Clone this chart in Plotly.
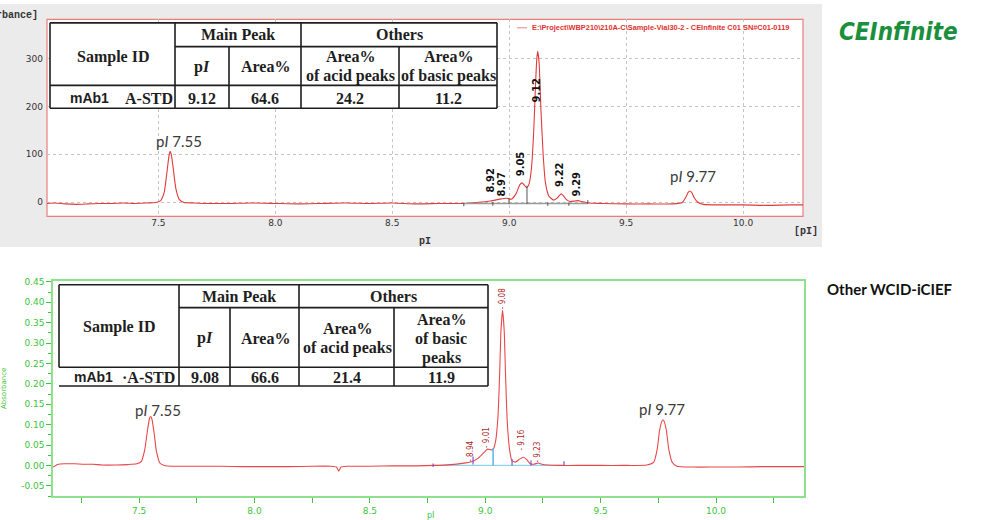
import plotly.graph_objects as go

# ---------------- data ----------------
# CEInfinite electropherogram (top panel), pI vs absorbance (mAU)
top_pi = [7.024, 7.06, 7.10, 7.15, 7.20, 7.25, 7.30, 7.35, 7.40, 7.45, 7.49, 7.51, 7.525, 7.535,
          7.545, 7.55, 7.555, 7.565, 7.575, 7.59, 7.61, 7.65, 7.70, 7.80, 7.90, 8.00, 8.10, 8.20,
          8.30, 8.40, 8.50, 8.60, 8.70, 8.80, 8.86, 8.92, 8.96, 8.99, 9.01, 9.03, 9.045, 9.055,
          9.065, 9.075, 9.085, 9.095, 9.105, 9.112, 9.118, 9.122, 9.128, 9.135, 9.145, 9.155,
          9.17, 9.19, 9.205, 9.215, 9.222, 9.23, 9.245, 9.26, 9.28, 9.295, 9.31, 9.34, 9.40,
          9.50, 9.60, 9.70, 9.74, 9.755, 9.765, 9.772, 9.78, 9.79, 9.805, 9.83, 9.90, 10.00,
          10.10, 10.20, 10.256]
top_abs = [-3, -2, -4, -5, -4, -3, -3, -2, -3, -2, -1, 3, 20, 55,
           95, 106, 100, 65, 28, 5, -1, -2, -3, -3, -2, -3, -4, -3,
           -2, -3, -2, -4, -3, -3, -1, 2, 6, 8, 6, 18, 36, 40,
           35, 30, 38, 70, 150, 240, 300, 315, 290, 200, 100, 40,
           12, 4, 8, 14, 17, 14, 5, 1, 2, 3, 1, -2, -3,
           -4, -4, -4, -1, 10, 20, 23, 20, 10, 0, -5, -6, -6,
           -7, -6, -6]
top_peak_labels = ["8.92", "8.97", "9.05", "9.12", "9.22", "9.29"]
top_bounds_pi = [8.806, 8.93, 8.999, 9.076, 9.165, 9.255, 9.336]
top_bounds_low = [-9, -8, -4, -4, -8, -8, -4]
top_bounds_high = [-2, 0, 8, 34, -1, -1, 4]
top_xticks = [7.5, 8.0, 8.5, 9.0, 9.5, 10.0]
top_yticks = [0, 100, 200, 300]

# Other WCID-iCIEF electropherogram (bottom panel), pI vs absorbance (AU)
bot_pi = [7.127, 7.15, 7.18, 7.22, 7.26, 7.30, 7.34, 7.40, 7.45, 7.49, 7.51, 7.525, 7.535, 7.545,
          7.55, 7.555, 7.565, 7.575, 7.59, 7.61, 7.65, 7.75, 7.85, 7.95, 8.05, 8.15, 8.25, 8.33,
          8.355, 8.365, 8.375, 8.40, 8.50, 8.60, 8.70, 8.78, 8.85, 8.90, 8.94, 8.97, 8.995, 9.01,
          9.025, 9.035, 9.045, 9.055, 9.062, 9.068, 9.075, 9.082, 9.088, 9.095, 9.105, 9.115,
          9.13, 9.15, 9.165, 9.18, 9.195, 9.21, 9.23, 9.245, 9.27, 9.32, 9.40, 9.50, 9.60, 9.70,
          9.73, 9.745, 9.755, 9.765, 9.77, 9.775, 9.785, 9.795, 9.81, 9.83, 9.90, 10.00, 10.10,
          10.20, 10.30, 10.381]
bot_abs = [-0.004, 0.003, 0.004, 0.004, 0.003, 0.003, 0.001, 0.001, 0.002, 0.004, 0.010, 0.040, 0.080, 0.115,
           0.120, 0.115, 0.080, 0.035, 0.006, 0.000, -0.002, -0.002, -0.002, -0.003, -0.003, -0.003, -0.002, -0.002,
           -0.004, -0.014, -0.004, -0.002, -0.002, -0.001, -0.001, 0.000, 0.002, 0.005, 0.009, 0.018, 0.032, 0.040,
           0.038, 0.040, 0.060, 0.120, 0.220, 0.330, 0.380, 0.330, 0.220, 0.110, 0.040, 0.012,
           0.008, 0.016, 0.020, 0.014, 0.004, 0.003, 0.006, 0.003, 0.001, 0.000, 0.000, 0.000, 0.000, 0.001,
           0.008, 0.040, 0.085, 0.108, 0.112, 0.108, 0.085, 0.040, 0.008, -0.002, -0.004, -0.004, -0.004,
           -0.003, -0.003, -0.003]
bot_peak_labels = ["8.94", "9.01", "9.08", "9.16", "9.23"]
bot_bounds_pi = [8.774, 8.947, 9.116, 9.198, 9.341]
bot_bounds_low = [-0.004, 0.002, 0.0, 0.0, 0.0]
bot_bounds_high = [0.005, 0.022, 0.016, 0.012, 0.010]
bot_drop_pi = [9.034]
bot_drop_high = [0.042]
bot_xticks = [7.5, 8.0, 8.5, 9.0, 9.5, 10.0]
bot_xminor = [7.25, 7.75, 8.25, 8.75, 9.25, 9.75, 10.25]
bot_yticks = [-0.05, 0.0, 0.05, 0.10, 0.15, 0.20, 0.25, 0.30, 0.35, 0.40, 0.45]
bot_yminor = [-0.075, -0.025, 0.025, 0.075, 0.125, 0.175, 0.225, 0.275, 0.325, 0.375, 0.425]

# table contents
top_table_values = ["mAb1", "A-STD", "9.12", "64.6", "24.2", "11.2"]
bot_table_values = ["mAb1", "\u00b7A-STD", "9.08", "66.6", "21.4", "11.9"]
legend_name = r"E:\Project\WBP210\210A-C\Sample-Vial30-2 - CEInfinite C01 SN#C01-0119"

# ---------------- helpers ----------------
W, H = 1000, 520
def PX(x):
    return x / W
def PY(y):
    return 1 - y / H

RED = "#e23a3a"
GREEN = "#3cc43c"
SERIF = "Liberation Serif, Times New Roman, serif"
SANS = "Liberation Sans, Arial, sans-serif"
NARROW = "Liberation Sans Narrow, DejaVu Sans Condensed, Arial Narrow, sans-serif"

def seg_lists(xs, lows, highs):
    X, Y = [], []
    for x, lo, hi in zip(xs, lows, highs):
        X += [x, x, None]
        Y += [lo, hi, None]
    return X, Y

fig = go.Figure()

# top panel traces
fig.add_trace(go.Scatter(x=top_pi, y=top_abs, mode="lines", name=legend_name,
                         line=dict(color=RED, width=1.1, shape="spline", smoothing=0.5),
                         xaxis="x", yaxis="y", hoverinfo="skip"))
fig.add_trace(go.Scatter(x=[top_bounds_pi[0], top_bounds_pi[-1]], y=[-3, -3], mode="lines",
                         line=dict(color="#9a9a9a", width=1.5), xaxis="x", yaxis="y", hoverinfo="skip"))
tx, ty = seg_lists(top_bounds_pi, top_bounds_low, top_bounds_high)
fig.add_trace(go.Scatter(x=tx, y=ty, mode="lines", line=dict(color="#555555", width=1),
                         xaxis="x", yaxis="y", hoverinfo="skip"))

# bottom panel traces
fig.add_trace(go.Scatter(x=[bot_bounds_pi[0], bot_bounds_pi[-1]], y=[0, 0], mode="lines",
                         line=dict(color="#8fd3ec", width=1.2), xaxis="x2", yaxis="y2", hoverinfo="skip"))
fig.add_trace(go.Scatter(x=bot_pi, y=bot_abs, mode="lines",
                         line=dict(color="#e8474a", width=1.1, shape="spline", smoothing=0.5),
                         xaxis="x2", yaxis="y2", hoverinfo="skip"))
bx, by = seg_lists(bot_bounds_pi, bot_bounds_low, bot_bounds_high)
fig.add_trace(go.Scatter(x=bx, y=by, mode="lines", line=dict(color="#8a4fd0", width=1.2),
                         xaxis="x2", yaxis="y2", hoverinfo="skip"))
dx, dy = seg_lists(bot_drop_pi, [0] * len(bot_drop_pi), bot_drop_high)
fig.add_trace(go.Scatter(x=dx, y=dy, mode="lines", line=dict(color="#5ab4e8", width=1.5),
                         xaxis="x2", yaxis="y2", hoverinfo="skip"))

shapes = []
# gray panel + white plot area for top chart
shapes.append(dict(type="rect", xref="paper", yref="paper", x0=PX(0), x1=PX(822), y0=PY(245), y1=PY(0),
                   fillcolor="#ebebeb", line=dict(width=0), layer="below"))
shapes.append(dict(type="rect", xref="paper", yref="paper", x0=PX(47), x1=PX(803), y0=PY(214), y1=PY(15.5),
                   fillcolor="white", line=dict(color="#ec7d7d", width=1.2), layer="below"))
# legend sample line
shapes.append(dict(type="line", xref="paper", yref="paper", x0=PX(517), x1=PX(527), y0=PY(24), y1=PY(24),
                   line=dict(color="#f08080", width=1), layer="above"))

def table_shapes(box, vfull, vpart, hsplit, hrow, left_to=None):
    L, T, R, B = box
    out = []
    out.append(dict(type="rect", xref="paper", yref="paper", x0=PX(L), x1=PX(R), y0=PY(B), y1=PY(T),
                    fillcolor="white", line=dict(width=0), layer="above"))
    lw = 1.6
    col = "#1e1e1e"
    def ln(x0, y0, x1, y1):
        out.append(dict(type="line", xref="paper", yref="paper", x0=PX(x0), x1=PX(x1), y0=PY(y0), y1=PY(y1),
                        line=dict(color=col, width=lw), layer="above"))
    ln(L, T, R, T)
    ln(L, B, R, B)
    ln(R, T, R, B)
    ln(L, T, L, left_to if left_to else B)
    for v in vfull:
        ln(v, T, v, B)
    for v in vpart:
        ln(v, hsplit, v, B)
    ln(vfull[0], hsplit, R, hsplit)
    ln(L, hrow, R, hrow)
    return out

shapes += table_shapes((50, 19, 497, 105), [175, 301], [229, 399], 43, 82)
shapes += table_shapes((59, 283, 488, 385), [179, 299], [230, 394], 306, 366, left_to=366)

ann = []
def text(x, y, s, size=16, family=SERIF, color="#1e1e1e", xanchor="center", angle=0, xref="paper", yref="paper"):
    if xref == "paper":
        x = PX(x)
    if yref == "paper":
        y = PY(y)
    ann.append(dict(x=x, y=y, xref=xref, yref=yref, text=s, showarrow=False, textangle=angle,
                    xanchor=xanchor, yanchor="middle", font=dict(family=family, size=size, color=color)))

# top table text
text(113, 53, "<b>Sample ID</b>")
text(238, 31, "<b>Main Peak</b>")
text(399, 31, "<b>Others</b>")
text(202, 63, "<b>p<i>I</i></b>")
text(265, 63, "<b>Area%</b>")
text(350, 53, "<b>Area%</b>")
text(350, 73, "<b>of acid peaks</b>")
text(448, 53, "<b>Area%</b>")
text(448, 73, "<b>of basic peaks</b>")
text(68, 95, "<b>%s</b>" % top_table_values[0], size=14, family=SANS, xanchor="left")
text(123, 95, "<b>%s</b>" % top_table_values[1], xanchor="left")
for cx, v in zip([202, 265, 350, 448], top_table_values[2:]):
    text(cx, 95, "<b>%s</b>" % v)

# bottom table text
text(119, 325, "<b>Sample ID</b>")
text(239, 295, "<b>Main Peak</b>")
text(393, 295, "<b>Others</b>")
text(205, 337, "<b>p<i>I</i></b>")
text(265, 337, "<b>Area%</b>")
text(347, 327, "<b>Area%</b>")
text(347, 347, "<b>of acid peaks</b>")
text(441, 318, "<b>Area%</b>")
text(441, 337, "<b>of basic</b>")
text(441, 357, "<b>peaks</b>")
text(72, 376, "<b>%s</b>" % bot_table_values[0], size=14, family=SANS, xanchor="left")
text(177, 376, "<b>%s</b>" % bot_table_values[1], xanchor="right")
for cx, v in zip([205, 265, 347, 441], bot_table_values[2:]):
    text(cx, 376, "<b>%s</b>" % v)

# marker annotations (pI markers)
PIFONT = "Lato, Open Sans, sans-serif"
text(7.59, 128, "p<i>I</i> 7.55", size=15, family=PIFONT, color="#3a3a3a", xref="x", yref="y")
text(9.785, 54, "p<i>I</i> 9.77", size=15, family=PIFONT, color="#3a3a3a", xref="x", yref="y")
text(7.583, 0.136, "p<i>I</i> 7.55", size=15, family=PIFONT, color="#3a3a3a", xref="x2", yref="y2")
text(9.765, 0.139, "p<i>I</i> 9.77", size=15, family=PIFONT, color="#3a3a3a", xref="x2", yref="y2")

# peak labels top
top_label_y = [45, 38, 80, 235, 57, 38]
for lbl, yy in zip(top_peak_labels, top_label_y):
    text(float(lbl) - 0.002, yy, "<b>%s</b>" % lbl, size=11, family=NARROW, color="#111111",
         angle=-90, xref="x", yref="y")
# peak labels bottom
bot_label_y = [0.034, 0.068, 0.409, 0.061, 0.032]
for lbl, yy in zip(bot_peak_labels, bot_label_y):
    text(float(lbl) - 0.005, yy, "- %s" % lbl, size=8, family=NARROW, color="#b02828",
         angle=-90, xref="x2", yref="y2")

# axis titles, legend text, side labels
text(40, 12, "<b>[Absorbance]</b>", size=10, family="Liberation Mono, Courier New, monospace",
     color="#333333", xanchor="right")
text(425, 239, "<b>pI</b>", size=10, family="Liberation Mono, Courier New, monospace", color="#333333")
text(806, 229, "<b>[pI]</b>", size=10, family="Liberation Mono, Courier New, monospace", color="#333333")
text(530, 24, "<b>%s</b>" % legend_name, size=7.4, family=SANS, color="#e03030", xanchor="left")
text(898, 28, "<b><i>CEInfinite</i></b>", size=24, family="DejaVu Sans Condensed, DejaVu Sans, sans-serif",
     color="#1a8f3c")
text(890, 287, "<b>Other WCID-iCIEF</b>", size=15, family="Lato, Liberation Sans, sans-serif", color="#111111")
text(4, 388, "Absorbance", size=7, family="DejaVu Sans, sans-serif", color=GREEN, angle=-90)
text(430, 515, "pI", size=8, family="DejaVu Sans, sans-serif", color=GREEN)

fig.update_layout(
    width=W, height=H, margin=dict(l=0, r=0, t=0, b=0),
    paper_bgcolor="white", plot_bgcolor="rgba(0,0,0,0)", showlegend=False,
    shapes=shapes, annotations=ann,
    xaxis=dict(domain=[PX(47), PX(803)], range=[7.024, 10.256], anchor="y",
               tickvals=top_xticks, ticktext=["%.1f" % v for v in top_xticks],
               showgrid=True, gridcolor="#c4c4c4", griddash="dot", gridwidth=1,
               zeroline=False, showline=False, ticks="",
               tickfont=dict(family="DejaVu Sans, sans-serif", size=9, color="#333333")),
    yaxis=dict(domain=[PY(214), PY(15.5)], range=[-30, 382], anchor="x",
               tickvals=top_yticks, ticktext=[str(v) for v in top_yticks],
               showgrid=True, gridcolor="#c4c4c4", griddash="dot", gridwidth=1,
               zeroline=False, showline=False, ticks="", ticklabelstandoff=3,
               tickfont=dict(family="DejaVu Sans, sans-serif", size=9, color="#333333")),
    xaxis2=dict(domain=[PX(53), PX(804)], range=[7.127, 10.381], anchor="y2",
                tickvals=bot_xticks, ticktext=["%.1f" % v for v in bot_xticks],
                ticks="outside", ticklen=5, tickcolor=GREEN, tickwidth=1,
                minor=dict(tickvals=bot_xminor, ticks="outside", ticklen=5, tickcolor=GREEN, showgrid=False),
                showgrid=False, zeroline=False, showline=True, mirror=True,
                linecolor="#8fe08f", linewidth=1.5,
                tickfont=dict(family="DejaVu Sans, sans-serif", size=9, color=GREEN)),
    yaxis2=dict(domain=[PY(496), PY(279)], range=[-0.0754, 0.4524], anchor="x2",
                tickvals=bot_yticks, ticktext=["%.2f" % v for v in bot_yticks],
                ticks="outside", ticklen=5, tickcolor=GREEN, tickwidth=1,
                minor=dict(tickvals=bot_yminor, ticks="outside", ticklen=3, tickcolor=GREEN, showgrid=False),
                showgrid=False, zeroline=False, showline=True, mirror=True,
                linecolor="#8fe08f", linewidth=1.5,
                tickfont=dict(family="DejaVu Sans, sans-serif", size=9, color=GREEN)),
)

fig.write_html("out.html", config={"displayModeBar": False},
               post_script="document.body.style.margin='0';document.body.style.overflow='hidden';")
